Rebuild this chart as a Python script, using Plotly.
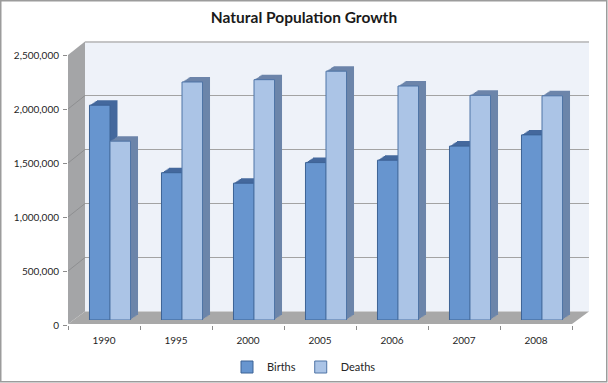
import plotly.graph_objects as go

# ---- data ----
years = ["1990", "1995", "2000", "2005", "2006", "2007", "2008"]
births = [1988858, 1363806, 1266800, 1457376, 1479637, 1610122, 1713947]
deaths = [1655993, 2203811, 2225332, 2303935, 2166703, 2080445, 2075954]
tick_vals = [0, 500000, 1000000, 1500000, 2000000, 2500000]
y_max = 2500000

# ---- geometry (pixels) ----
W, H = 608, 383
FL, FR, FB, FT = 68, 572, 325, 55        # front plane
BDX, BDY = 17, -13.5                     # back wall offset
BAR_DX, BAR_DY = 6, -5                   # bar front plane offset
N_DEPTH = 6
DEPTH_DX, DEPTH_DY = 7.5, -5.0           # bar depth extent

FONT = "Lato"
C_BIRTH, C_DEATH = "#6795cf", "#abc4e6"
C_BIRTH_D, C_DEATH_D = "#44689d", "#6c85aa"
C_EDGE = "#3c6295"


def fx(p):
    return p / W


def fy(p):
    return 1 - p / H


def dom(dx, dy):
    return [fx(FL + dx), fx(FR + dx)], [fy(FB + dy), fy(FT + dy)]


fig = go.Figure()
layout_axes = {}


def add_axes(i, dx, dy, **kw):
    xd, yd = dom(dx, dy)
    sfx = "" if i == 1 else str(i)
    xa = dict(domain=xd, anchor="y" + sfx, type="category", categoryarray=years,
              range=[-0.5, len(years) - 0.5], showgrid=False, zeroline=False,
              showticklabels=False, ticks="", showline=False, fixedrange=True,
              automargin=False)
    ya = dict(domain=yd, anchor="x" + sfx, range=[0, y_max], showgrid=False,
              zeroline=False, showticklabels=False, ticks="", showline=False,
              fixedrange=True, automargin=False)
    xa.update(kw.get("x", {}))
    ya.update(kw.get("y", {}))
    layout_axes["xaxis" + sfx] = xa
    layout_axes["yaxis" + sfx] = ya
    return "x" + sfx, "y" + sfx


# 1: front axes with labels
xa1, ya1 = add_axes(
    1, 0, 0,
    x=dict(showticklabels=True, ticks="outside", tickson="boundaries", ticklen=4,
           tickcolor="#8c8c8c", tickfont=dict(family=FONT, size=10, color="#1f1f1f"),
           ticklabelstandoff=8),
    y=dict(showticklabels=True, ticks="outside", ticklen=4, tickcolor="#8c8c8c",
           tickvals=tick_vals, tickformat=",d",
           tickfont=dict(family=FONT, size=10, color="#1f1f1f"),
           ticklabelstandoff=2),
)
fig.add_trace(go.Scatter(x=years, y=births, mode="markers", marker=dict(opacity=0),
                         xaxis=xa1, yaxis=ya1, showlegend=False, hoverinfo="skip"))

# 2: back wall with gridlines
xa2, ya2 = add_axes(2, BDX, BDY, y=dict(showgrid=True, gridcolor="#a3a3a3",
                                        gridwidth=1, tickvals=tick_vals))
fig.add_trace(go.Scatter(x=years, y=births, mode="markers", marker=dict(opacity=0),
                         xaxis=xa2, yaxis=ya2, showlegend=False, hoverinfo="skip"))

# 3..8: depth layers of bars (farthest first)
BARGAP = 0.43
for j in range(N_DEPTH):
    k = N_DEPTH - j
    i = 3 + j
    dx = BAR_DX + DEPTH_DX * k / N_DEPTH
    dy = BAR_DY + DEPTH_DY * k / N_DEPTH
    xa, ya = add_axes(i, dx, dy)
    fig.add_trace(go.Bar(x=years, y=births, marker=dict(color=C_BIRTH_D, line=dict(width=0)),
                         xaxis=xa, yaxis=ya, showlegend=False, hoverinfo="skip",
                         offsetgroup="b"))
    fig.add_trace(go.Bar(x=years, y=deaths, marker=dict(color=C_DEATH_D, line=dict(width=0)),
                         xaxis=xa, yaxis=ya, showlegend=False, hoverinfo="skip",
                         offsetgroup="d"))

# 9: front faces of bars
xa9, ya9 = add_axes(9, BAR_DX, BAR_DY)
fig.add_trace(go.Bar(name="Births", x=years, y=births,
                     marker=dict(color=C_BIRTH, line=dict(color=C_EDGE, width=1)),
                     xaxis=xa9, yaxis=ya9, offsetgroup="b"))
fig.add_trace(go.Bar(name="Deaths", x=years, y=deaths,
                     marker=dict(color=C_DEATH, line=dict(color="#4f74a6", width=1)),
                     xaxis=xa9, yaxis=ya9, offsetgroup="d"))

# ---- walls & floor (decoration) ----
shapes = []
# back wall
shapes.append(dict(type="rect", xref="paper", yref="paper", layer="below",
                   x0=fx(FL + BDX), x1=fx(FR + BDX), y0=fy(FB + BDY), y1=fy(FT + BDY),
                   fillcolor="#eef2f9", line=dict(width=0)))
# back wall top edge
shapes.append(dict(type="line", xref="paper", yref="paper", layer="below",
                   x0=fx(FL + BDX), x1=fx(FR + BDX), y0=fy(FT + BDY + 0.5), y1=fy(FT + BDY + 0.5),
                   line=dict(color="#b5b5b5", width=1.5)))
# left wall
shapes.append(dict(type="path", xref="paper", yref="paper", layer="below",
                   path=f"M {fx(FL)} {fy(FT)} L {fx(FL + BDX)} {fy(FT + BDY)} "
                        f"L {fx(FL + BDX)} {fy(FB + BDY)} L {fx(FL)} {fy(FB - 1)} Z",
                   fillcolor="#a4a5a7", line=dict(width=0)))
# floor
shapes.append(dict(type="path", xref="paper", yref="paper", layer="below",
                   path=f"M {fx(FL + BDX)} {fy(FB + BDY)} L {fx(FR + BDX)} {fy(FB + BDY)} "
                        f"L {fx(FR)} {fy(FB - 1)} L {fx(FL)} {fy(FB - 1)} Z",
                   fillcolor="#a8a8a8", line=dict(width=0)))
# left-wall gridlines
for v in tick_vals[1:]:
    shapes.append(dict(type="line", xref="paper", yref="y", layer="below",
                       x0=fx(FL), x1=fx(FL + BDX), y0=v, y1=v - BDY / (FB - FT) * y_max,
                       line=dict(color="#8e8f91", width=1)))
# outer border
shapes.append(dict(type="rect", xref="paper", yref="paper", layer="above",
                   x0=fx(0.75), x1=fx(W - 1.25), y0=fy(H - 1.25), y1=fy(0.75),
                   line=dict(color="#9c9c9c", width=1.5)))

fig.update_layout(
    width=W, height=H,
    margin=dict(l=0, r=0, t=0, b=0, pad=0, autoexpand=False),
    paper_bgcolor="white", plot_bgcolor="rgba(0,0,0,0)",
    barmode="group", bargap=BARGAP, bargroupgap=0,
    title=dict(text="Natural Population Growth", x=0.5, xanchor="center",
               y=fy(18), yanchor="middle", yref="paper", automargin=False,
               font=dict(family=FONT, size=15.5, color="#1a1a1a", weight="bold")),
    legend=dict(orientation="h", x=0.5, xanchor="center", y=fy(367), yanchor="middle",
                font=dict(family=FONT, size=11, color="#262626"),
                bgcolor="rgba(0,0,0,0)", itemwidth=30, tracegroupgap=0),
    shapes=shapes,
    showlegend=True,
    **layout_axes,
)

fig.write_html("out.html",
               config={"displayModeBar": False},
               post_script="document.body.style.margin='0';"
                           "document.body.style.overflow='hidden';")
